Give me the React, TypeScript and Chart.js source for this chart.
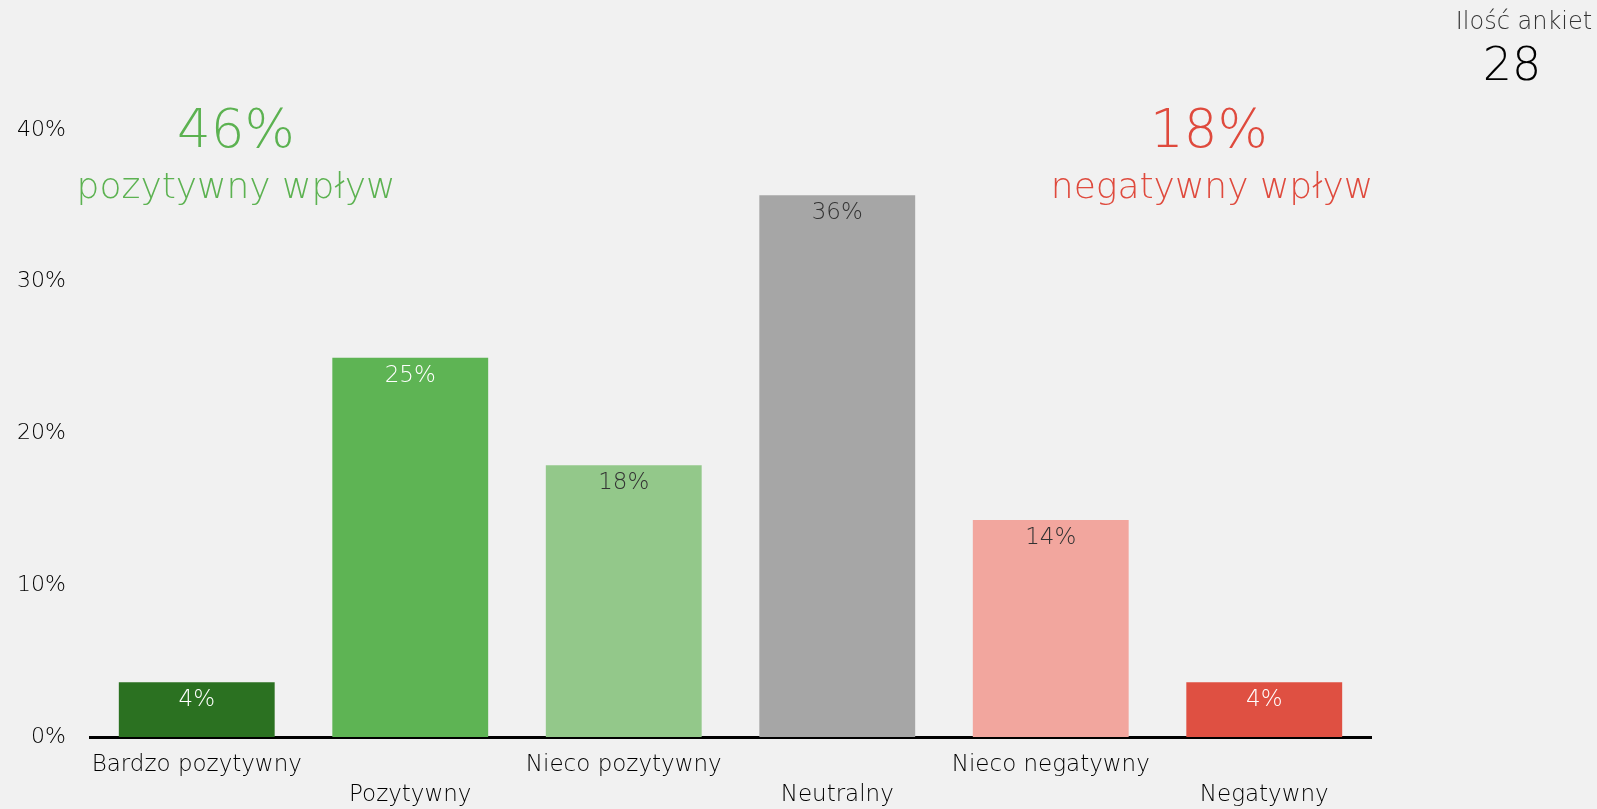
import React, { useEffect, useRef } from "react";
import { Chart, registerables } from "chart.js";

Chart.register(...registerables);

const FONT = "'DejaVu Sans', 'Open Sans', sans-serif";

const categories = [
  "Bardzo pozytywny",
  "Pozytywny",
  "Nieco pozytywny",
  "Neutralny",
  "Nieco negatywny",
  "Negatywny",
];
const shares = [3.6, 25, 17.9, 35.7, 14.3, 3.6];
const barColors = ["#2b7121", "#5eb454", "#93c88a", "#a6a6a6", "#f2a69e", "#df5042"];
const valueLabelColors = ["#ffffff", "#ffffff", "#333333", "#333333", "#333333", "#ffffff"];
const yTicks = [0, 10, 20, 30, 40];

const positiveShare = "46%";
const positiveLabel = "pozytywny wpływ";
const negativeShare = "18%";
const negativeLabel = "negatywny wpływ";
const surveyTitle = "Ilość ankiet";
const surveyCount = "28";

const W = 1597;
const H = 809;
const PLOT_TOP = 130;
const PLOT_BOTTOM = 737;
const PLOT_LEFT = 90;
const PLOT_RIGHT = 1371;

const valueLabels = {
  id: "valueLabels",
  afterDatasetsDraw(chart: any) {
    const ctx = chart.ctx;
    const meta = chart.getDatasetMeta(0);
    ctx.save();
    ctx.font = `200 23px ${FONT}`;
    ctx.textAlign = "center";
    ctx.textBaseline = "middle";
    meta.data.forEach((bar: any, i: number) => {
      ctx.fillStyle = valueLabelColors[i];
      ctx.fillText(Math.round(shares[i]) + "%", bar.x, bar.y + 18);
    });
    ctx.restore();
  },
};

export default function App() {
  const ref = useRef<HTMLCanvasElement | null>(null);

  useEffect(() => {
    if (!ref.current) return;
    const chart = new Chart(ref.current, {
      type: "bar",
      data: {
        labels: categories,
        datasets: [
          {
            data: shares,
            backgroundColor: barColors,
            borderWidth: 0,
            categoryPercentage: 1,
            barPercentage: 0.73,
          },
        ],
      },
      options: {
        animation: false,
        responsive: false,
        layout: { padding: { left: 0, right: W - PLOT_RIGHT, top: PLOT_TOP, bottom: 0 } },
        plugins: { legend: { display: false }, tooltip: { enabled: false } },
        scales: {
          x: {
            grid: { display: false, drawTicks: false },
            border: { display: true, color: "#000000", width: 3 },
            afterFit: (s: any) => {
              s.height = H - PLOT_BOTTOM;
            },
            ticks: {
              autoSkip: false,
              maxRotation: 0,
              minRotation: 0,
              padding: 13,
              color: "#000000",
              font: { family: FONT, size: 23, weight: "200", lineHeight: 30 / 23 },
              callback: (_v: any, i: number) =>
                i % 2 === 0 ? [categories[i]] : ["", categories[i]],
            },
          },
          y: {
            min: yTicks[0],
            max: yTicks[yTicks.length - 1],
            grid: { display: false, drawTicks: false },
            border: { display: false },
            afterFit: (s: any) => {
              s.width = PLOT_LEFT;
            },
            afterBuildTicks: (s: any) => {
              s.ticks = yTicks.map((v) => ({ value: v }));
            },
            ticks: {
              padding: 24,
              color: "#000000",
              font: { family: FONT, size: 22, weight: "200" },
              callback: (v: any) => v + "%",
            },
          },
        },
      },
      plugins: [valueLabels],
    });
    return () => chart.destroy();
  }, []);

  const base: React.CSSProperties = {
    position: "absolute",
    transform: "translate(-50%, -50%)",
    whiteSpace: "nowrap",
    lineHeight: 1,
    fontFamily: FONT,
    fontWeight: 200,
  };

  return (
    <div
      style={{
        position: "absolute",
        left: 0,
        top: 0,
        width: W,
        height: H,
        background: "#f1f1f1",
        overflow: "hidden",
      }}
    >
      <canvas ref={ref} width={W} height={H} style={{ position: "absolute", left: 0, top: 0 }} />
      <div style={{ ...base, left: 236, top: 128, fontSize: 53, color: "#5cb251" }}>{positiveShare}</div>
      <div style={{ ...base, left: 236, top: 186, fontSize: 36, color: "#5cb251" }}>{positiveLabel}</div>
      <div style={{ ...base, left: 1209, top: 128, fontSize: 53, color: "#df4a3d" }}>{negativeShare}</div>
      <div style={{ ...base, left: 1212, top: 186, fontSize: 36, color: "#df4a3d" }}>{negativeLabel}</div>
      <div style={{ ...base, left: 1524, top: 21, fontSize: 24, color: "#333333" }}>{surveyTitle}</div>
      <div style={{ ...base, left: 1512, top: 64, fontSize: 46, color: "#000000" }}>{surveyCount}</div>
    </div>
  );
}
